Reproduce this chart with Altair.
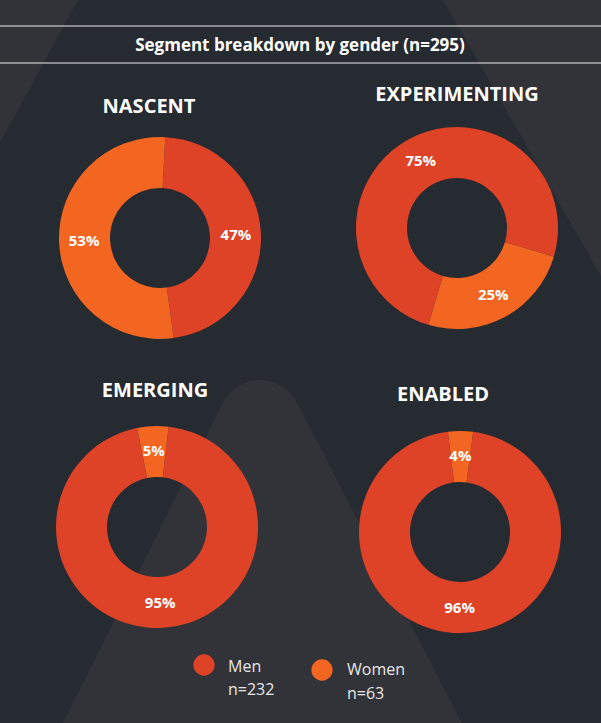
import math
import altair as alt
import pandas as pd

# ---------------- data ----------------
segments = ["NASCENT", "EXPERIMENTING", "EMERGING", "ENABLED"]
genders = ["Men", "Women"]
men_pct = [47, 75, 95, 96]
women_pct = [53, 25, 5, 4]
gender_counts = [232, 63]
title_text = "Segment breakdown by gender (n=295)"

# ---------------- style / layout ----------------
W, H = 601, 723
BG = "#262A31"
SHAPE = "#323338"
COLORS = ["#DE4227", "#F36621"]
FONT = "Open Sans"
TXT = "#FFFFFF"
LEG_TXT = "#E6E6E6"

LAYOUT = {
    "NASCENT": dict(cx=160, cy=238, rot=3.0, tx=149, ty=113),
    "EXPERIMENTING": dict(cx=457, cy=228, rot=196.5, tx=457, ty=101),
    "EMERGING": dict(cx=157, cy=527, rot=6.6, tx=155, ty=397),
    "ENABLED": dict(cx=460, cy=532, rot=7.5, tx=443, ty=401),
}
R_OUT, R_IN, R_LAB = 101, 50, 76

LEG = {
    "Men": dict(cx=204, cy=665, tx=228, ty1=672, ty2=695),
    "Women": dict(cx=322, cy=670, tx=347, ty1=675, ty2=699),
}

# decorative background wedges: (cx, cy, start_deg, end_deg, outer_r, inner_r)
DECOR = [
    (0, 143, 0.0, 28.6, 200, 0),          # top-left wedge
    (601, 276, 330.2, 360.0, 340, 0),     # top-right wedge
    (259.4, 329.1, 152.8, 206.5, 470, 83),  # bottom arch (body)
    (260, 422, 0.0, 360.0, 42, 0),        # bottom arch (rounded top)
]

# ---------------- tables ----------------
rows = []
for s, m, w in zip(segments, men_pct, women_pct):
    rows.append({"segment": s, "gender": genders[0], "gidx": 0, "pct": m, "label": f"{m}%"})
    rows.append({"segment": s, "gender": genders[1], "gidx": 1, "pct": w, "label": f"{w}%"})
df = pd.DataFrame(rows)
seg_df = pd.DataFrame({"segment": segments})
leg_df = pd.DataFrame({"gender": genders, "n": [f"n={c}" for c in gender_counts]})
one = pd.DataFrame({"k": [0]})

decor_layers = []
for cx, cy, a0, a1, ro, ri in DECOR:
    kw = dict(theta=math.radians(a0), theta2=math.radians(a1), radius=ro, color=SHAPE, opacity=1)
    if ri > 0:
        kw["radius2"] = ri
    decor_layers.append(
        alt.Chart(one).mark_arc(**kw).encode(x=alt.value(cx), y=alt.value(cy))
    )

rule_top = alt.Chart(one).mark_rule(color="#EDEDED", strokeWidth=1.2).encode(
    x=alt.value(0), x2=alt.value(W), y=alt.value(26))
rule_bot = alt.Chart(one).mark_rule(color="#EDEDED", strokeWidth=1.2).encode(
    x=alt.value(0), x2=alt.value(W), y=alt.value(63))

title = alt.Chart(pd.DataFrame({"t": [title_text]})).mark_text(
    font=FONT, fontSize=17, fontWeight="bold", color=TXT, align="center", baseline="alphabetic"
).encode(text="t:N", x=alt.value(300), y=alt.value(51))

color_scale = alt.Scale(domain=genders, range=COLORS)

def donut(seg):
    L = LAYOUT[seg]
    rot = math.radians(L["rot"])
    base = alt.Chart(df).transform_filter(alt.datum.segment == seg)
    theta = alt.Theta("pct:Q", stack=True,
                      scale=alt.Scale(domain=[0, 100], range=[rot, rot + 2 * math.pi]))
    arc = base.mark_arc(innerRadius=R_IN, outerRadius=R_OUT).encode(
        theta=theta,
        color=alt.Color("gender:N", scale=color_scale, legend=None),
        order=alt.Order("gidx:Q", sort="ascending"),
        x=alt.value(L["cx"]), y=alt.value(L["cy"]),
    )
    lab = base.mark_text(radius=R_LAB, font=FONT, fontSize=15, fontWeight="bold", color=TXT).encode(
        theta=theta,
        text="label:N",
        detail="gender:N",
        order=alt.Order("gidx:Q", sort="ascending"),
        x=alt.value(L["cx"]), y=alt.value(L["cy"]),
    )
    head = alt.Chart(seg_df).transform_filter(alt.datum.segment == seg).mark_text(
        font=FONT, fontSize=20, fontWeight="bold", color=TXT, align="center", baseline="alphabetic"
    ).encode(text="segment:N", x=alt.value(L["tx"]), y=alt.value(L["ty"]))
    return alt.layer(arc, lab, head)

def legend_item(g):
    L = LEG[g]
    base = alt.Chart(leg_df).transform_filter(alt.datum.gender == g)
    dot = base.mark_circle(size=math.pi * 12 * 12, opacity=1).encode(
        color=alt.Color("gender:N", scale=color_scale, legend=None),
        x=alt.value(L["cx"]), y=alt.value(L["cy"]))
    t1 = base.mark_text(font=FONT, fontSize=16, color=LEG_TXT, align="left", baseline="alphabetic").encode(
        text="gender:N", x=alt.value(L["tx"]), y=alt.value(L["ty1"]))
    t2 = base.mark_text(font=FONT, fontSize=16, color=LEG_TXT, align="left", baseline="alphabetic").encode(
        text="n:N", x=alt.value(L["tx"]), y=alt.value(L["ty2"]))
    return alt.layer(dot, t1, t2)

chart = alt.layer(
    *decor_layers, rule_top, rule_bot, title,
    *[donut(s) for s in segments],
    *[legend_item(g) for g in genders],
).resolve_scale(theta="independent").properties(
    width=W, height=H, background=BG, padding=0,
    autosize=alt.AutoSizeParams(type="none"),
).configure_view(stroke=None)

chart.save("out.html", embed_options={"renderer": "svg", "actions": False})
